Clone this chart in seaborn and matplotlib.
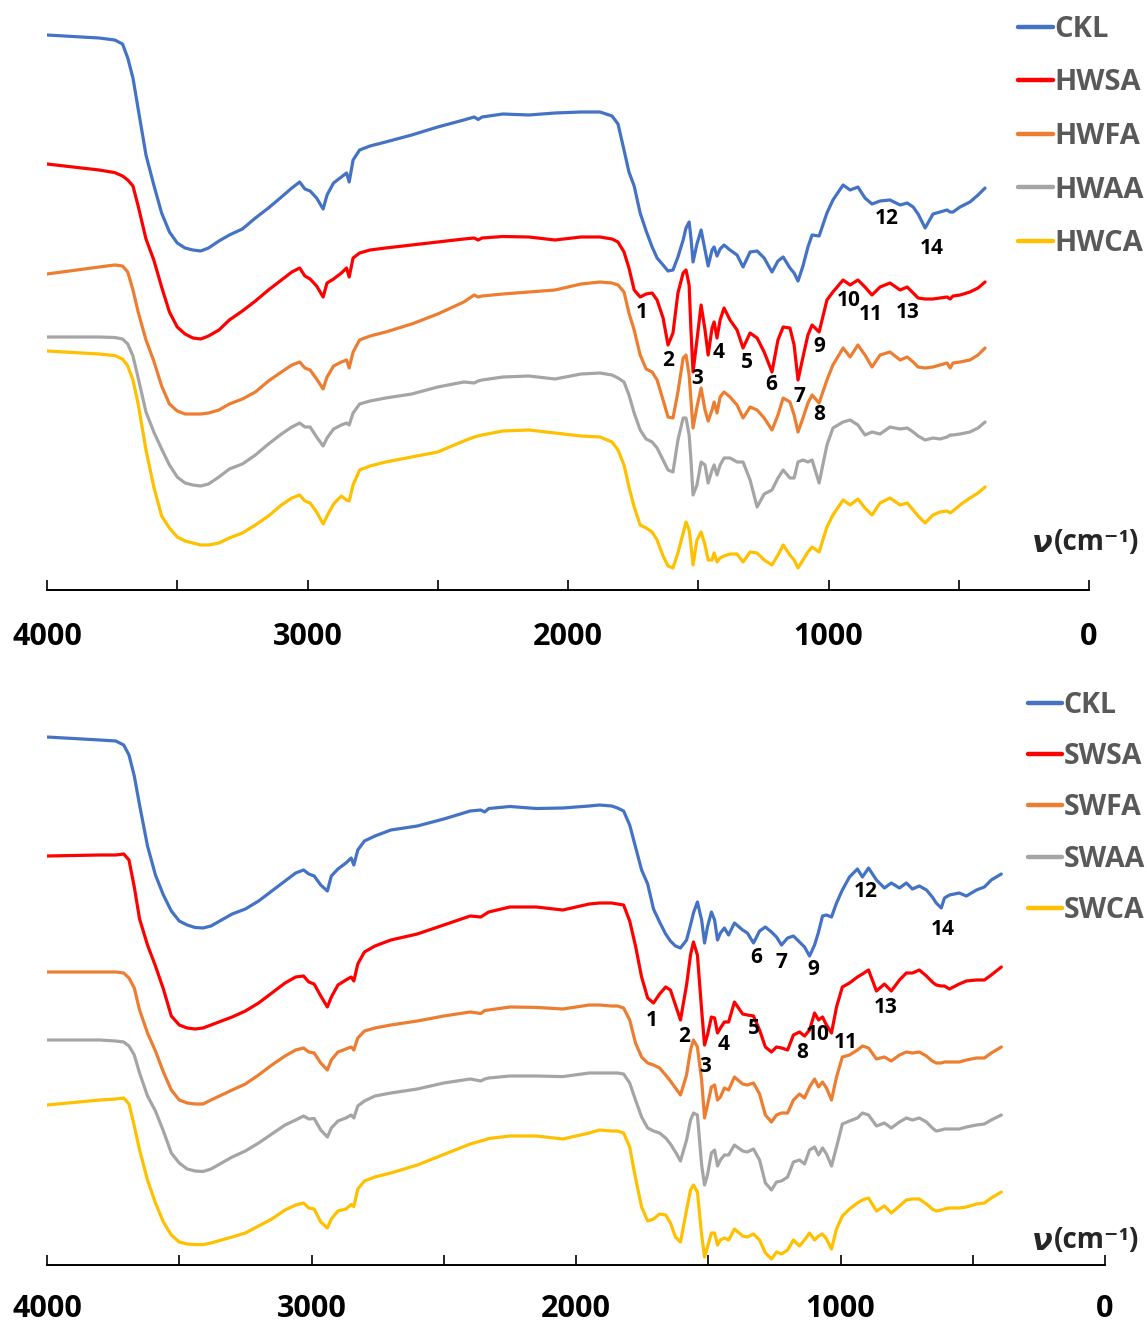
import matplotlib
matplotlib.use("Agg")
import matplotlib.pyplot as plt
import seaborn as sns

# ---------------- data (wavenumber in cm-1, offset transmittance in a.u.) ----------------
WN_HIGH = [4000, 3800, 3740, 3710, 3690, 3670, 3650, 3620, 3590, 3560, 3530, 3500, 3470, 3440,
           3410, 3380, 3340, 3300, 3250, 3200, 3150, 3100, 3060, 3030, 3010, 2990, 2965, 2940,
           2925, 2900, 2870, 2850, 2840, 2825, 2800, 2760, 2700, 2600, 2500, 2400, 2360, 2345,
           2330, 2250, 2150, 2050, 1950]

WN_FP_TOP = [1877, 1831, 1808, 1785, 1766, 1746, 1723, 1700, 1677, 1658, 1635, 1616, 1597, 1578,
             1558, 1547, 1535, 1528, 1520, 1505, 1489, 1474, 1462, 1447, 1439, 1428, 1416, 1401,
             1378, 1351, 1328, 1301, 1274, 1247, 1217, 1194, 1174, 1148, 1132, 1117, 1098, 1079,
             1063, 1036, 1006, 983, 944, 917, 887, 860, 833, 802, 764, 725, 698, 675, 656, 629,
             599, 572, 545, 533, 522, 495, 457, 426, 399]

WN_FP_BOT = [1911, 1865, 1843, 1820, 1797, 1775, 1752, 1729, 1707, 1684, 1661, 1643, 1624, 1605,
             1582, 1567, 1556, 1541, 1525, 1514, 1503, 1488, 1476, 1465, 1454, 1439, 1423, 1401,
             1370, 1352, 1329, 1306, 1284, 1261, 1242, 1223, 1200, 1178, 1155, 1136, 1117, 1098,
             1083, 1068, 1053, 1034, 1015, 993, 966, 936, 917, 894, 864, 834, 808, 777, 751, 728,
             702, 675, 653, 638, 619, 607, 588, 551, 524, 486, 456, 430, 392]

# top panel (hardwood fractions)
CKL_TOP = [555, 552, 550, 546, 532, 512, 481, 435, 405, 377, 358, 347, 342, 340, 339, 342, 349, 355,
           361, 372, 382, 393, 402, 408, 401, 399, 392, 381, 395, 407, 413, 417, 408, 430, 440, 444,
           448, 455, 463, 470, 473, 470.5, 473, 476, 475, 477, 478] + \
          [478, 474, 466, 440, 418, 404, 377, 359, 343, 332, 325, 319, 320, 333, 350, 362, 368, 352,
           328, 346, 360, 340, 324, 340, 343, 334, 341, 345, 340, 335, 323, 338, 339, 332, 318, 329,
           333, 322, 317, 309, 324, 343, 355, 354, 377, 390, 405, 400, 403, 392, 386, 389, 390, 385,
           387, 383, 376, 362, 376, 378, 380, 378, 378, 383, 388, 395, 402]
HWSA = [426, 420, 417.4, 414, 410, 404, 384, 351, 330, 303, 278, 263, 256, 252, 251, 254, 260, 270,
        279, 289, 300, 310, 318, 322, 314, 311, 304, 293, 307, 311, 317, 322, 313, 332, 337, 340,
        342, 345, 348, 351, 352, 350, 352, 353.5, 353, 350, 353] + \
       [353, 351, 348, 338, 322, 300, 293, 296, 297, 290, 272, 245, 257, 297, 317, 320, 305, 260,
        218, 250, 285, 260, 235, 262, 268, 252, 270, 282, 270, 260, 242, 257, 252, 238, 218, 250,
        263, 262, 245, 210, 233, 255, 265, 258, 290, 298, 310, 305, 310, 303, 295, 303, 307, 300,
        303, 297, 292, 291, 291, 292, 293, 291, 294, 295, 298, 302, 308]
HWFA = [316, 323, 325, 324, 318, 300, 278, 250, 229, 204, 186, 179, 176, 176, 176, 177, 180, 186,
        191, 198, 209, 218, 225, 228, 222, 220, 211, 201, 213, 224, 228, 230, 222, 238, 250, 254,
        258, 266, 276, 288, 295, 293, 294, 296, 298, 300, 306] + \
       [308, 307, 305, 298, 277, 260, 235, 221, 218, 210, 190, 173, 172, 198, 232, 235, 215, 190,
        162, 183, 202, 180, 169, 180, 188, 177, 193, 198, 193, 185, 172, 183, 180, 172, 160, 175,
        192, 188, 175, 158, 172, 187, 195, 187, 210, 225, 242, 233, 245, 235, 223, 235, 238, 230,
        233, 228, 223, 222, 223, 225, 227, 222, 227, 228, 230, 235, 242]
HWAA = [253, 253, 252.5, 251, 246, 234, 212, 178, 158, 141, 125, 113, 107, 105, 104, 106, 113, 121,
        126, 135, 146, 156, 163, 167, 163, 163, 153, 144, 152, 161, 165, 167, 165, 177, 186, 189,
        192, 196, 203, 208, 207, 209, 210, 213, 214, 211, 216] + \
       [217, 215, 212, 208, 195, 177, 160, 151, 148, 142, 130, 120, 118, 150, 172, 172, 155, 130,
        95, 105, 128, 125, 107, 120, 125, 115, 125, 132, 132, 128, 128, 110, 83, 96, 100, 112,
        120, 112, 112, 128, 130, 128, 130, 107, 145, 162, 168, 170, 165, 155, 158, 156, 163, 161,
        162, 158, 154, 150, 152, 151, 153, 155, 155, 156, 158, 162, 168]
HWCA = [239, 236, 234.4, 231, 224, 210, 186, 140, 103, 74, 62, 53, 49, 47, 45, 45, 47, 52, 57, 65,
        74, 85, 92, 95, 89, 87, 78, 66, 74, 86, 94, 90, 89, 105, 120, 124, 128, 133, 138, 149,
        153, 154, 155, 159, 160, 157, 154] + \
       [153, 148, 140, 125, 103, 83, 65, 62, 58, 50, 34, 24, 22, 37, 57, 68, 60, 45, 25, 50, 58,
        45, 30, 30, 37, 28, 32, 34, 36, 36, 28, 38, 37, 30, 25, 35, 45, 35, 30, 22, 30, 38, 43,
        38, 63, 75, 90, 85, 91, 82, 75, 87, 92, 85, 87, 80, 74, 67, 75, 78, 79, 77, 79, 85, 92,
        97, 103]

# bottom panel (softwood fractions)
CKL_BOT = [528, 525, 524, 520, 510, 489, 460, 419, 390, 370, 354, 344, 340, 337.5, 337, 339, 345,
           351, 356, 364, 374, 384, 392, 395, 391, 389, 380, 374, 389, 396, 402, 407, 400, 415,
           424, 429, 435, 439, 446, 454, 455, 453, 456.5, 458.5, 456.5, 457, 459] + \
          [460, 459, 457, 454, 440, 418, 395, 381, 356, 343, 331, 324, 319, 317, 325, 340, 352,
           363, 345, 322, 338, 353, 345, 325, 332, 337, 330, 342, 335, 332, 322, 334, 338, 333,
           328, 320, 327, 329, 323, 318, 309, 320, 333, 349, 350, 348, 362, 375, 388, 396, 388,
           397, 385, 377, 382, 377, 382, 376, 379, 375, 368, 362, 357, 367, 370, 372, 369, 375,
           378, 385, 391]
SWSA = [409, 410, 410, 411, 405, 378, 346, 320, 299, 276, 249, 240, 237, 236, 237, 240, 244, 248,
        254, 262, 272, 282, 288, 289, 283, 281, 269, 258, 268, 280, 285, 288, 284, 301, 313, 319,
        325, 331, 340, 349, 348, 350.5, 353, 358, 358, 355, 361] + \
       [362, 362, 361, 360, 344, 319, 288, 267, 262, 271, 278, 275, 260, 245, 280, 310, 323, 310,
        255, 220, 230, 248, 247, 232, 237, 243, 243, 263, 251, 250, 249, 235, 218, 213, 218, 217,
        215, 230, 233, 229, 235, 252, 245, 248, 240, 232, 258, 278, 282, 288, 291, 295, 274, 281,
        274, 285, 292, 292, 295, 289, 283, 280, 279, 279, 276, 281, 284, 285, 285, 290, 298]
SWFA = [293, 293, 293, 292, 287, 277, 255, 232, 214, 193, 175, 165, 162, 161, 161, 165, 170, 175,
        181, 190, 200, 209, 215, 217, 213, 212, 202, 195, 205, 213, 216, 218, 215, 227, 234, 237,
        240, 244, 249, 253, 251.5, 254.5, 255, 258, 257.6, 256, 260] + \
       [260, 259, 259, 257, 245, 222, 208, 202, 200, 197, 190, 184, 177, 170, 190, 215, 225, 218,
        185, 147, 160, 178, 180, 165, 168, 177, 175, 188, 181, 180, 182, 171, 150, 143, 150, 152,
        152, 165, 171, 167, 178, 186, 178, 183, 177, 165, 188, 208, 210, 215, 219, 217, 206, 208,
        204, 210, 213, 212, 213, 209, 204, 202, 202, 203, 203, 203, 205, 207, 207, 212, 218]
SWAA = [225, 225, 224, 223, 219, 210, 192, 169, 154, 134, 112, 102, 96, 94, 93.5, 96, 102, 108,
        114, 122, 131, 140, 145, 149, 146, 146.5, 135, 128, 137, 144, 147, 150, 147, 159, 164, 169,
        172, 176, 182, 186, 184, 186, 187, 189, 189, 188.4, 192] + \
       [192, 192, 192, 191, 182, 165, 148, 137, 134, 132, 127, 121, 113, 104, 125, 145, 152, 150,
        100, 80, 90, 112, 115, 99, 105, 110, 110, 120, 114, 113, 116, 105, 82, 75, 83, 84, 88,
        103, 105, 101, 115, 118, 110, 117, 111, 99, 118, 141, 144, 147, 152, 150, 139, 142, 137,
        143, 147, 145, 147, 143, 137, 134, 135, 136, 136, 136, 138, 140, 141, 145, 150]
SWCA = [160, 165, 166, 167, 161, 139, 115, 85, 62, 43, 30, 23, 21, 20.4, 20.4, 22, 25, 28, 32, 39,
        46, 55, 60, 62, 57, 56, 43, 37, 46, 54, 56, 60.5, 58.4, 76, 84, 88, 92, 100, 110.5, 121,
        124, 125, 126.5, 129, 129, 126, 132] + \
       [135, 134, 134, 132, 118, 87, 58, 44, 46, 51, 50, 42, 28, 23, 55, 75, 80, 73, 30, 8, 18, 32,
        32, 20, 25, 27, 25, 36, 29, 28, 31, 25, 12, 6, 13, 11, 15, 25, 19, 25, 32, 25, 29, 31, 26,
        16, 36, 49, 56, 62, 65, 67, 54, 59, 52, 59, 65, 66, 66, 61, 56, 54, 55, 56, 57, 57, 58,
        61, 62, 67, 73]

TOP_NAMES = ["CKL", "HWSA", "HWFA", "HWAA", "HWCA"]
BOT_NAMES = ["CKL", "SWSA", "SWFA", "SWAA", "SWCA"]

PEAK_LABELS = [str(i) for i in range(1, 15)]
TOP_PEAK_WN = [1717, 1616, 1506, 1420, 1314, 1221, 1113, 1036, 1036, 921, 837, 775, 695, 602]
TOP_PEAK_Y = [277, 230, 211, 237, 228, 205, 194, 175, 243, 290, 276, 371, 278, 342]
BOT_PEAK_WN = [1712, 1593, 1510, 1441, 1328, 1319, 1224, 1146, 1103, 1087, 979, 903, 828, 615]
BOT_PEAK_Y = [245, 228, 199, 221, 236, 308, 303, 212, 296, 231, 223, 374, 258, 336]

TICKS_MAJOR = [4000, 3000, 2000, 1000, 0]
TICKS_MINOR = [3500, 2500, 1500, 500]

# ---------------- styling ----------------
COLORS = ["#4472C4", "#FF0000", "#ED7D31", "#A5A5A5", "#FFC000"]
sns.set_theme(style="white")
plt.rcParams["font.family"] = ["Open Sans", "DejaVu Sans"]

W, H = 1147, 1322
fig = plt.figure(figsize=(W / 100, H / 100), dpi=100)


def px_axes(left, right, top, bottom):
    return fig.add_axes([left / W, 1 - bottom / H, (right - left) / W, (bottom - top) / H])


def panel(ax, wn, series, names, peak_wn, peak_y, leg_left, leg_top, leg_size, leg_space,
          lab_y, tick_pad):
    for vals, name, col in zip(series, names, COLORS):
        sns.lineplot(x=wn, y=vals, ax=ax, color=col, lw=2.3, label=name,
                     estimator=None, errorbar=None)
    ax.set_xlim(4000, 0)
    ax.set_ylim(0, 590)
    ax.set_xticks(TICKS_MAJOR)
    ax.set_xticks(TICKS_MINOR, minor=True)
    ax.set_xticklabels([str(t) for t in TICKS_MAJOR])
    ax.set_yticks([])
    ax.set_xlabel("")
    ax.set_ylabel("")
    ax.tick_params(axis="x", which="both", direction="in", length=7.5, width=1.2,
                   color="black", bottom=True)
    ax.tick_params(axis="x", which="major", pad=tick_pad, labelsize=22, labelcolor="black")
    for lbl in ax.get_xticklabels():
        lbl.set_fontweight("bold")
    for s in ["left", "top", "right"]:
        ax.spines[s].set_visible(False)
    ax.spines["bottom"].set_color("black")
    ax.spines["bottom"].set_linewidth(1.4)
    ax.patch.set_alpha(0)

    for lab, x, y in zip(PEAK_LABELS, peak_wn, peak_y):
        ax.text(x, y, lab, ha="center", va="center", fontsize=15, fontweight="bold",
                color="black")

    handles, labels = ax.get_legend_handles_labels()
    leg = ax.legend(handles, labels, loc="upper left",
                    bbox_to_anchor=(leg_left / W, 1 - leg_top / H),
                    bbox_transform=fig.transFigure, frameon=False, handlelength=1.2,
                    handletextpad=0.05, labelspacing=leg_space, borderpad=0,
                    borderaxespad=0, prop={"weight": "bold", "size": leg_size})
    for t in leg.get_texts():
        t.set_color("#595959")
    for l in leg.get_lines():
        l.set_linewidth(3.2)

    fig.text(1032 / W, 1 - lab_y / H, "ν", fontsize=22, fontweight="bold",
             fontstyle="italic", family=["DejaVu Sans"], ha="left", va="center")
    fig.text(1054 / W, 1 - lab_y / H, "(cm⁻¹)", fontsize=20, fontweight="bold",
             family=["Open Sans", "DejaVu Sans"], ha="left", va="center")


ax1 = px_axes(47, 1089, 0, 590)
panel(ax1, WN_HIGH + WN_FP_TOP, [CKL_TOP, HWSA, HWFA, HWAA, HWCA], TOP_NAMES,
      TOP_PEAK_WN, TOP_PEAK_Y, 1018, 15, 21, 0.84, 543, 23)

ax2 = px_axes(47, 1105, 675, 1265)
panel(ax2, WN_HIGH + WN_FP_BOT, [CKL_BOT, SWSA, SWFA, SWAA, SWCA], BOT_NAMES,
      BOT_PEAK_WN, BOT_PEAK_Y, 1028, 691, 20.5, 0.78, 1241, 21)

fig.savefig("out.png", dpi=100)
